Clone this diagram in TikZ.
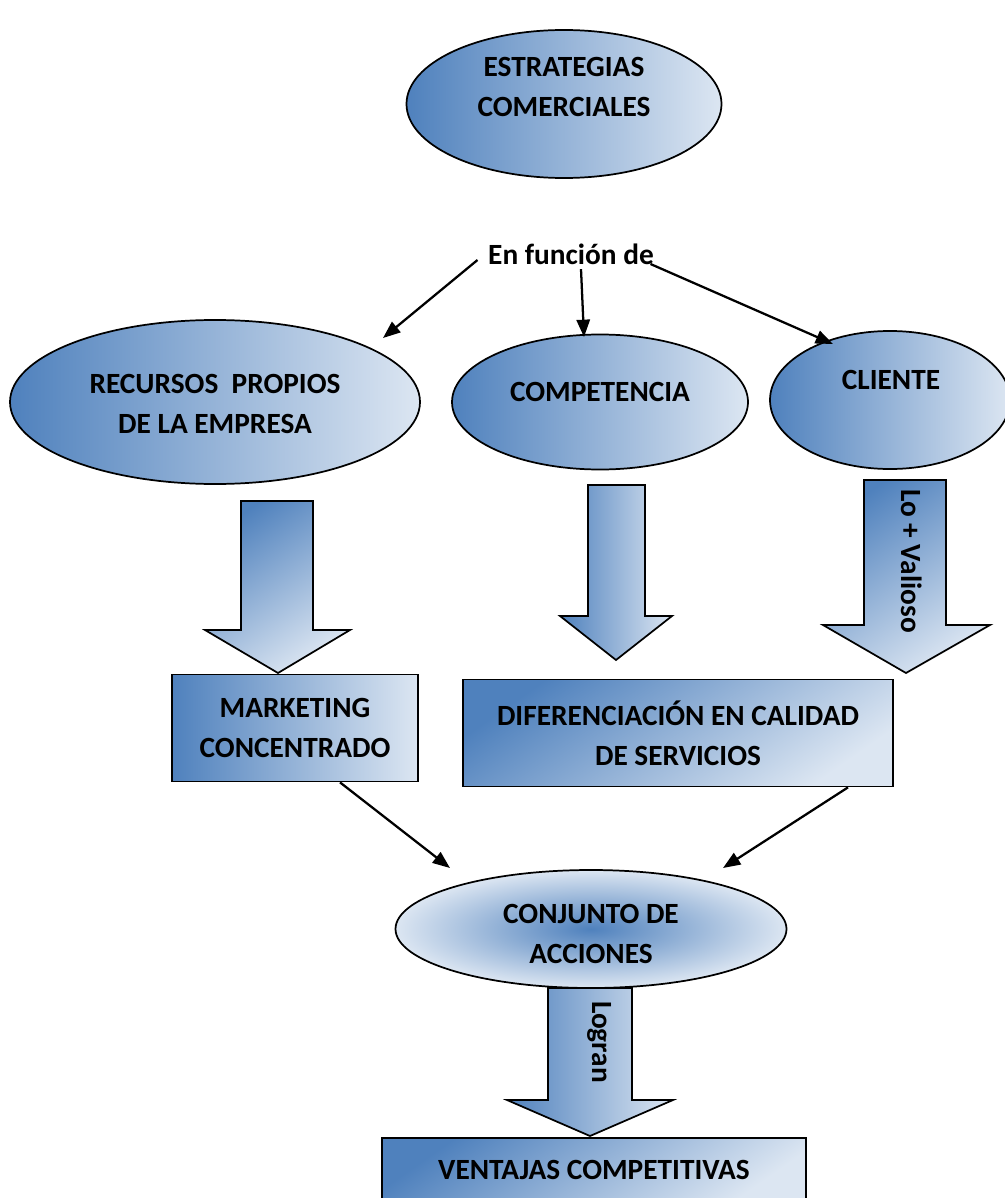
\documentclass[tikz,border=0pt]{standalone}
\usepackage{fontspec}
\setmainfont{Carlito}
\usetikzlibrary{shapes.geometric,arrows.meta,calc}
\definecolor{blueD}{RGB}{79,129,189}
\definecolor{blueL}{RGB}{220,230,242}
\begin{document}
\begin{tikzpicture}[x=0.75pt,y=-0.75pt,
  every node/.style={font=\fontsize{22}{30}\selectfont\bfseries, align=center},
  ell/.style 2 args={ellipse, draw, line width=1.3pt, inner sep=0pt,
    minimum width=#1*0.75pt, minimum height=#2*0.75pt,
    left color=blueD, right color=blueL},
  box/.style 2 args={rectangle, draw, line width=1.3pt, inner sep=0pt,
    minimum width=#1*0.75pt, minimum height=#2*0.75pt},
  hgrad/.style={left color=blueD, right color=blueL},
  dgrad/.style={top color=blueD, bottom color=blueL, shading angle=35},
  blockarrow/.style={draw, line width=1.3pt, line join=miter},
  con/.style={draw, line width=1.7pt, -{Triangle[length=13pt,width=10pt]}},
  txt/.style={inner sep=0pt}
]
\useasboundingbox (0,0) rectangle (1005,1198);
\fill[white] (0,0) rectangle (1005,1198);

% top ellipse
\node[ell={315}{148}] (est) at (564,104) {};
\node[txt] (estT) at (564,87) {ESTRATEGIAS\\COMERCIALES};

% en funcion de
\node (fn) at (571,254) {En función de};

% second row ellipses
\node[ell={410}{164}] (rec) at (215,402) {};
\node[txt] (recT) at (215,404) {RECURSOS\ \ PROPIOS\\DE LA EMPRESA};
\node[ell={296}{135}] (comp) at (600,402) {};
\node[txt] (compT) at (600,392) {COMPETENCIA};
\node[ell={240}{138}] (cli) at (890,400) {};
\node[txt] (cliT) at (891,380) {CLIENTE};

% arrow tips for top connectors
\coordinate (a1) at (383,338);
\coordinate (a2) at (584,337);
\coordinate (a3) at (833,344);
\draw[con] ([shift={(-6,6)}]fn.west) -- (a1);
\draw[con] ([shift={(10,0)}]fn.south) -- (a2);
\draw[con] ([shift={(-8,10)}]fn.east) -- (a3);

% block arrows
\path[blockarrow, dgrad] (241,501) -- (313,501) -- (313,630) -- (350,630) -- (278,673) -- (205,630) -- (241,630) -- cycle;
\path[blockarrow, hgrad] (588,485) -- (645,485) -- (645,616) -- (672,616) -- (616,660) -- (560,616) -- (588,616) -- cycle;
\path[blockarrow, dgrad] (864,480) -- (946,480) -- (946,625) -- (990,625) -- (906,673) -- (823,625) -- (864,625) -- cycle;
\node[rotate=-90] (lov) at (912,561) {Lo + Valioso};

% boxes
\node[box={246}{107}, hgrad] (mk) at (295,728) {MARKETING\\CONCENTRADO};
\node[box={430}{107}, dgrad] (dif) at (678,733) {DIFERENCIACIÓN EN CALIDAD\\DE SERVICIOS};

% conjunto
\node[ellipse, draw, line width=1.3pt, minimum width=391*0.75pt, minimum height=118*0.75pt,
      inner color=blueD, outer color=blueL] (conj) at (591,929) {};
\node[txt] (conjT) at (591,934) {CONJUNTO DE\\ACCIONES};

\coordinate (c1) at (450,868);
\coordinate (c2) at (723,868);
\draw[con] ([shift={(45,0)}]mk.south) -- (c1);
\draw[con] ([shift={(170,0)}]dif.south) -- (c2);

% logran arrow
\path[blockarrow, hgrad] (548,988) -- (632,988) -- (632,1100) -- (673,1100) -- (590,1136) -- (507,1100) -- (548,1100) -- cycle;
\node[rotate=-90] (log) at (600,1042) {Logran};

% ventajas
\node[box={424}{64}, dgrad, anchor=north] (vent) at (594,1137) {VENTAJAS COMPETITIVAS};
\end{tikzpicture}
\end{document}
